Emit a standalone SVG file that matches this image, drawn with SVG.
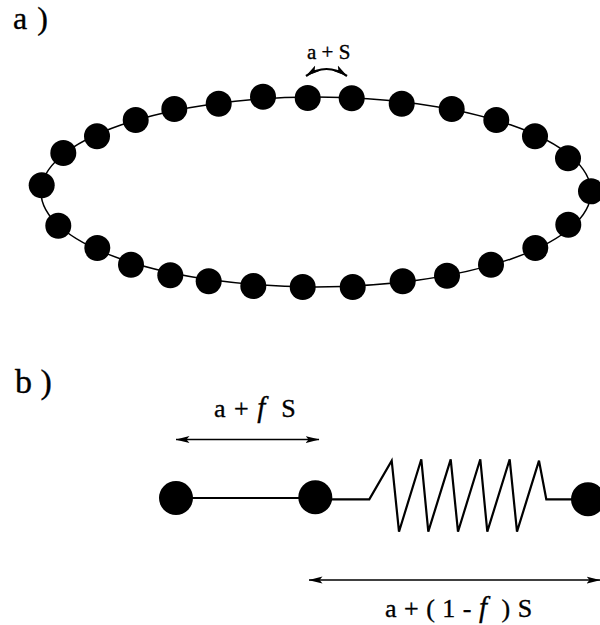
<svg xmlns="http://www.w3.org/2000/svg" width="600" height="625" viewBox="0 0 600 625">
<style>
.t{font-family:"Liberation Serif","Times New Roman",serif;fill:#000;stroke:#000;stroke-width:.35}
.l{fill:none;stroke:#000}
.b{fill:#000}
</style>
<defs>
<marker id="ah" viewBox="0 0 14 8" refX="13.5" refY="4" markerWidth="14" markerHeight="8" markerUnits="userSpaceOnUse" orient="auto-start-reverse"><path d="M0 .5L14 4L0 7.5L3 4Z" fill="#000"/></marker>
</defs>
<rect width="600" height="625" fill="#fff"/>
<g id="connectors">
<ellipse class="l" cx="316" cy="192" rx="275" ry="95" stroke-width="1.5"/>
<path class="l" stroke-width="2.2" marker-start="url(#ah)" marker-end="url(#ah)" d="M306 76Q326.500 62 347 76"/>
<path class="l" stroke-width="1.6" marker-start="url(#ah)" marker-end="url(#ah)" d="M176 439.500H319"/>
<path class="l" stroke-width="1.6" marker-start="url(#ah)" marker-end="url(#ah)" d="M309 580H600"/>
<path class="l" stroke-width="2" d="M176 498H315"/>
<path class="l" stroke-width="2.2" d="M315 499.300H369.300L391.700 460.700L399 531.700L421.300 459.300L428.300 531.700L450.700 459.300L458 531.700L480.300 459.300L487.300 531.700L509.700 459.300L517 531.700L539 460.700L546.300 499.300H588"/>
</g>
<g id="ring" class="b">
<circle id="n1" cx="41.7" cy="185.3" r="13"/><circle id="n2" cx="63.3" cy="153" r="13"/><circle id="n3" cx="97" cy="136.3" r="13"/><circle id="n4" cx="135.7" cy="120" r="13"/><circle id="n5" cx="174.3" cy="109" r="13"/><circle id="n6" cx="218.7" cy="103.7" r="13"/><circle id="n7" cx="263" cy="96.7" r="13"/><circle id="n8" cx="307.7" cy="98" r="13"/><circle id="n9" cx="351.7" cy="98.3" r="13"/><circle id="n10" cx="401.7" cy="103.7" r="13"/><circle id="n11" cx="451.7" cy="109" r="13"/><circle id="n12" cx="496.3" cy="120" r="13"/><circle id="n13" cx="535" cy="136.3" r="13"/><circle id="n14" cx="568" cy="158.3" r="13"/><circle id="n15" cx="591" cy="191.3" r="13"/><circle id="n16" cx="568.3" cy="224.7" r="13"/><circle id="n17" cx="535.3" cy="248" r="13"/><circle id="n18" cx="491" cy="264.7" r="13"/><circle id="n19" cx="447" cy="275.7" r="13"/><circle id="n20" cx="402.7" cy="281.3" r="13"/><circle id="n21" cx="352.7" cy="287" r="13"/><circle id="n22" cx="302.7" cy="287" r="13"/><circle id="n23" cx="253.3" cy="286" r="13"/><circle id="n24" cx="208.7" cy="281.3" r="13"/><circle id="n25" cx="170.3" cy="275.3" r="13"/><circle id="n26" cx="131" cy="264.7" r="13"/><circle id="n27" cx="97.3" cy="248" r="13"/><circle id="n28" cx="58.3" cy="225.7" r="13"/>
</g>
<g id="chain" class="b">
<circle id="m1" cx="176" cy="498" r="17"/><circle id="m2" cx="315.3" cy="497.3" r="17"/><circle id="m3" cx="588" cy="499.3" r="17"/>
</g>
<g id="labels" class="t">
<text x="13" y="29" font-size="32" letter-spacing="1">a )</text>
<text x="15" y="393" font-size="34">b )</text>
<text x="307" y="59" font-size="21" xml:space="preserve">a + S</text>
<text x="214" y="417" font-size="26" letter-spacing="1" xml:space="preserve">a + <tspan font-style="italic" font-size="29">f</tspan>  S</text>
<text x="385" y="617" font-size="26" letter-spacing=".5" xml:space="preserve">a + ( 1 - <tspan font-style="italic" font-size="29">f</tspan>  ) S</text>
</g>
</svg>
